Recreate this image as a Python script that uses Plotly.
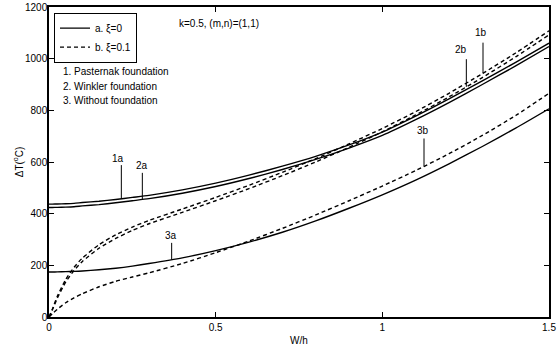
import numpy as np
import plotly.graph_objects as go

# W/h grid
wh = [0, 0.01, 0.025, 0.05, 0.075, 0.1, 0.15, 0.2, 0.25, 0.3, 0.4, 0.5, 0.6, 0.7,
      0.8, 0.9, 1.0, 1.1, 1.2, 1.3, 1.4, 1.5]

# a. xi = 0 (solid)
t_1a = [437, 437, 437.5, 438.5, 440, 443, 448, 455, 463, 471, 492, 518, 549, 584,
        622, 666, 716, 778, 844, 914, 986, 1060]
t_2a = [424, 424, 424.5, 425.5, 427, 430, 435, 442, 450, 458, 479, 505, 536, 571,
        610, 654, 703, 764, 830, 900, 972, 1047]
t_3a = [174, 174, 174.5, 175.5, 176.5, 178, 183, 189, 197, 207, 229, 257, 290, 328,
        372, 421, 473, 530, 593, 660, 731, 806]

# b. xi = 0.1 (dashed)
t_1b = [0, 30, 80, 145, 192, 228, 280, 318, 348, 374, 418, 463, 510, 560,
        613, 670, 730, 795, 866, 942, 1022, 1108]
t_2b = [0, 27, 73, 135, 180, 215, 266, 304, 335, 361, 405, 450, 497, 547,
        600, 657, 717, 782, 852, 927, 1007, 1092]
t_3b = [0, 12, 30, 55, 74, 90, 117, 138, 155, 171, 207, 249, 294, 343,
        395, 450, 507, 567, 632, 703, 780, 866]

# curve labels
lab_text = ["1a", "2a", "3a", "1b", "2b", "3b"]
lab_series = [t_1a, t_2a, t_3a, t_1b, t_2b, t_3b]
lab_x = [0.217, 0.280, 0.368, 1.302, 1.252, 1.125]
lab_top = [588, 558, 287, 1062, 998, 691]
lab_tx = [0.206, 0.279, 0.366, 1.297, 1.237, 1.122]
lab_ty = [614, 585, 317, 1101, 1036, 721]

notes = ["1. Pasternak foundation", "2. Winkler foundation", "3. Without foundation"]
notes_y = [950, 891, 837]

FONT = "Liberation Sans, Arial, sans-serif"
LW = 1.4
DASH = "4px,3px"

fig = go.Figure()
series = [
    (t_1a, "solid", "a. \u03be=0", True),
    (t_2a, "solid", "2a", False),
    (t_3a, "solid", "3a", False),
    (t_1b, DASH, "b. \u03be=0.1", True),
    (t_2b, DASH, "2b", False),
    (t_3b, DASH, "3b", False),
]
for ys, dash, name, show in series:
    fig.add_trace(go.Scatter(
        x=wh, y=ys, mode="lines", name=name, showlegend=show,
        line=dict(color="black", width=LW, dash=dash, shape="spline", smoothing=0.6),
        hoverinfo="skip"))

shapes = []
for xs, ys_ser, top in zip(lab_x, lab_series, lab_top):
    y0 = float(np.interp(xs, wh, ys_ser))
    shapes.append(dict(type="line", xref="x", yref="y", x0=xs, x1=xs, y0=y0, y1=top,
                       line=dict(color="black", width=1)))

annotations = []
for t, tx, ty in zip(lab_text, lab_tx, lab_ty):
    annotations.append(dict(x=tx, y=ty, xref="x", yref="y", text=t, showarrow=False,
                            font=dict(family=FONT, size=10, color="black")))
for t, ty in zip(notes, notes_y):
    annotations.append(dict(x=0.037, y=ty, xref="x", yref="y", text=t, showarrow=False,
                            xanchor="left", font=dict(family=FONT, size=10, color="black")))
annotations.append(dict(x=0.385, y=1137, xref="x", yref="y", text="k=0.5, (m,n)=(1,1)",
                        showarrow=False, xanchor="left",
                        font=dict(family=FONT, size=10, color="black")))

axis_common = dict(showgrid=False, zeroline=False, showline=True, linecolor="black",
                   linewidth=1.5, mirror="ticks", ticks="inside", ticklen=5,
                   tickcolor="black", tickwidth=1, ticklabeloverflow="allow",
                   tickfont=dict(family=FONT, size=10, color="black"))

fig.update_layout(
    width=558, height=348,
    margin=dict(l=49, r=9, t=7, b=31),
    paper_bgcolor="white", plot_bgcolor="white",
    font=dict(family=FONT, size=10, color="black"),
    shapes=shapes, annotations=annotations,
    legend=dict(x=0.01, y=0.982, xanchor="left", yanchor="top",
                bordercolor="black", borderwidth=1, bgcolor="white",
                font=dict(family=FONT, size=10, color="black"),
                tracegroupgap=0, itemwidth=30),
    xaxis=dict(range=[0, 1.5], tickvals=[0, 0.5, 1, 1.5], ticktext=["0", "0.5", "1", "1.5"],
               title=dict(text="W/h", standoff=5, font=dict(family=FONT, size=10)),
               automargin=False, **axis_common),
    yaxis=dict(range=[0, 1200], tickvals=[0, 200, 400, 600, 800, 1000, 1200],
               title=dict(text="\u0394T(<sup>o</sup>C)", standoff=0,
                          font=dict(family=FONT, size=10)),
               ticklabelstandoff=-2,
               automargin=False, **axis_common),
)

fig.write_html("out.html", config={"displayModeBar": False},
               post_script="document.body.style.margin='0';document.body.style.padding='0';")
